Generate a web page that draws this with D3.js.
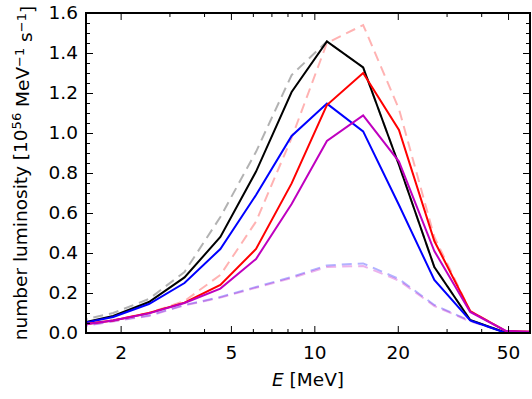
<!DOCTYPE html>
<html>
<head>
<meta charset="utf-8">
<script src="https://cdn.jsdelivr.net/npm/d3@7"></script>
<style>
body {margin:0; background:#fff;}
svg text {font-family:"DejaVu Sans", sans-serif; fill:#000;}
</style>
</head>
<body>
<svg id="graph1"></svg>
<script>
// energy bins [MeV]
var energy = [1.40, 1.88, 2.53, 3.40, 4.58, 6.16, 8.28, 11.1, 15.0, 20.2, 27.1, 36.5, 49.1, 66.0]

// solid lines
var blackLine   = [0.046, 0.085, 0.155, 0.278, 0.48, 0.807, 1.205, 1.458, 1.328, 0.84, 0.33, 0.065, 0.002, 0.0]
var blueLine    = [0.044, 0.080, 0.145, 0.25, 0.42, 0.69, 0.985, 1.147, 1.008, 0.64, 0.265, 0.063, 0.0, 0.0]
var redLine     = [0.040, 0.062, 0.100, 0.152, 0.24, 0.42, 0.748, 1.14, 1.30, 1.015, 0.46, 0.11, 0.01, 0.005]
var magentaLine = [0.038, 0.062, 0.098, 0.150, 0.222, 0.37, 0.645, 0.96, 1.088, 0.857, 0.41, 0.105, 0.01, 0.005]

// dashed lines
var blackDash   = [0.06, 0.10, 0.17, 0.305, 0.58, 0.906, 1.29, 1.458, 1.328, 0.84, 0.33, 0.065, 0.002, 0.0]
var redDash     = [0.040, 0.065, 0.10, 0.16, 0.29, 0.557, 0.975, 1.45, 1.54, 1.12, 0.48, 0.11, 0.01, 0.005]
var blueDash    = [0.030, 0.060, 0.088, 0.140, 0.180, 0.230, 0.280, 0.338, 0.348, 0.270, 0.140, 0.060, 0.003, 0.0]
var magentaDash = [0.030, 0.058, 0.085, 0.138, 0.177, 0.226, 0.275, 0.330, 0.335, 0.262, 0.135, 0.058, 0.003, 0.0]

var xMajor = [2, 5, 10, 20, 50]
var xLabels = ["2", "5", "10", "20", "50"]
var xMinor = [3, 4, 6, 7, 8, 9, 30, 40, 60]
var yMajor = [0, 0.2, 0.4, 0.6, 0.8, 1.0, 1.2, 1.4, 1.6]
var yLabels = ["0.0", "0.2", "0.4", "0.6", "0.8", "1.0", "1.2", "1.4", "1.6"]

var series = [
    {values: blackDash, color: "#000000", opacity: 0.3, dash: "10,6"},
    {values: redDash, color: "#ff0000", opacity: 0.3, dash: "10,6"},
    {values: blueDash, color: "#0000ff", opacity: 0.3, dash: "10,6"},
    {values: magentaDash, color: "#bf00bf", opacity: 0.3, dash: "10,6"},
    {values: blackLine, color: "#000000", opacity: 1, dash: null},
    {values: blueLine, color: "#0000ff", opacity: 1, dash: null},
    {values: redLine, color: "#ff0000", opacity: 1, dash: null},
    {values: magentaLine, color: "#bf00bf", opacity: 1, dash: null}
]

var screen = {width: 532, height: 399}
var margins = {left: 86, right: 2, top: 13, bottom: 66}
var graph = {
    width: screen.width - margins.left - margins.right,
    height: screen.height - margins.top - margins.bottom
}

var svg = d3.select("#graph1")
    .attr("width", screen.width)
    .attr("height", screen.height)

var xScale = d3.scaleLog()
    .domain([1.5, 60])
    .range([0, graph.width])

var yScale = d3.scaleLinear()
    .domain([0, 1.6])
    .range([graph.height, 0])

var target = svg.append("g")
    .attr("transform", "translate(" + margins.left + "," + margins.top + ")")

target.append("clipPath").attr("id", "clip")
    .append("rect")
    .attr("width", graph.width)
    .attr("height", graph.height)

var line = d3.line()
    .x(function (d, i) { return xScale(energy[i]) })
    .y(function (d) { return yScale(d) })

var lines = target.append("g").attr("clip-path", "url(#clip)")

lines.selectAll("path")
    .data(series)
    .enter()
    .append("path")
    .attr("d", function (s) { return line(s.values) })
    .attr("fill", "none")
    .attr("stroke", function (s) { return s.color })
    .attr("stroke-opacity", function (s) { return s.opacity })
    .attr("stroke-width", 2)
    .attr("stroke-dasharray", function (s) { return s.dash })

// axes, ticks pointing inward on all four sides
var drawAxes = function ()
{
    var fontSize = "18.5px"

    var bottom = target.append("g")
        .attr("transform", "translate(0," + graph.height + ")")
        .call(d3.axisBottom(xScale).tickValues(xMajor)
            .tickFormat(function (d, i) { return xLabels[i] })
            .tickSize(-7).tickSizeOuter(0).tickPadding(13))
    bottom.append("g")
        .call(d3.axisBottom(xScale).tickValues(xMinor).tickFormat("")
            .tickSize(-4).tickSizeOuter(0))

    var top = target.append("g")
    top.call(d3.axisTop(xScale).tickValues(xMajor).tickFormat("")
            .tickSize(-7).tickSizeOuter(0))
    top.append("g")
        .call(d3.axisTop(xScale).tickValues(xMinor).tickFormat("")
            .tickSize(-4).tickSizeOuter(0))

    var yMinor = d3.range(0.05, 1.6, 0.05).filter(function (v) {
        return Math.abs(v * 5 - Math.round(v * 5)) > 0.01 })

    var left = target.append("g")
        .call(d3.axisLeft(yScale).tickValues(yMajor)
            .tickFormat(function (d, i) { return yLabels[i] })
            .tickSize(-7).tickSizeOuter(0).tickPadding(8))
    left.append("g")
        .call(d3.axisLeft(yScale).tickValues(yMinor).tickFormat("")
            .tickSize(-4).tickSizeOuter(0))

    var right = target.append("g")
        .attr("transform", "translate(" + graph.width + ",0)")
    right.call(d3.axisRight(yScale).tickValues(yMajor).tickFormat("")
            .tickSize(-7).tickSizeOuter(0))
    right.append("g")
        .call(d3.axisRight(yScale).tickValues(yMinor).tickFormat("")
            .tickSize(-4).tickSizeOuter(0))

    target.selectAll(".domain").remove()
    target.selectAll(".tick line").attr("stroke", "#000").attr("stroke-width", 1)
    target.selectAll(".tick text")
        .style("font-family", "DejaVu Sans")
        .style("font-size", fontSize)

    // frame
    target.append("rect")
        .attr("width", graph.width)
        .attr("height", graph.height)
        .attr("fill", "none")
        .attr("stroke", "#000")
        .attr("stroke-width", 2)
}

var drawLabels = function ()
{
    var xlab = svg.append("text")
        .attr("text-anchor", "middle")
        .attr("x", margins.left + graph.width / 2)
        .attr("y", 386)
        .style("font-size", "18.5px")
    xlab.append("tspan").style("font-style", "italic").text("E")
    xlab.append("tspan").text(" [MeV]")

    var ylab = svg.append("g")
        .attr("transform", "translate(27," + (margins.top + graph.height / 2) + ")")
        .append("text")
        .attr("text-anchor", "middle")
        .attr("transform", "rotate(-90)")
        .style("font-size", "18.5px")
    ylab.append("tspan").text("number luminosity [10")
    ylab.append("tspan").attr("dy", "-0.45em").style("font-size", "13px").text("56")
    ylab.append("tspan").attr("dy", "0.45em").text(" MeV")
    ylab.append("tspan").attr("dy", "-0.45em").style("font-size", "13px").text("\u22121")
    ylab.append("tspan").attr("dy", "0.45em").text(" s")
    ylab.append("tspan").attr("dy", "-0.45em").style("font-size", "13px").text("\u22121")
    ylab.append("tspan").attr("dy", "0.45em").text("]")
}

drawAxes()
drawLabels()
</script>
</body>
</html>
